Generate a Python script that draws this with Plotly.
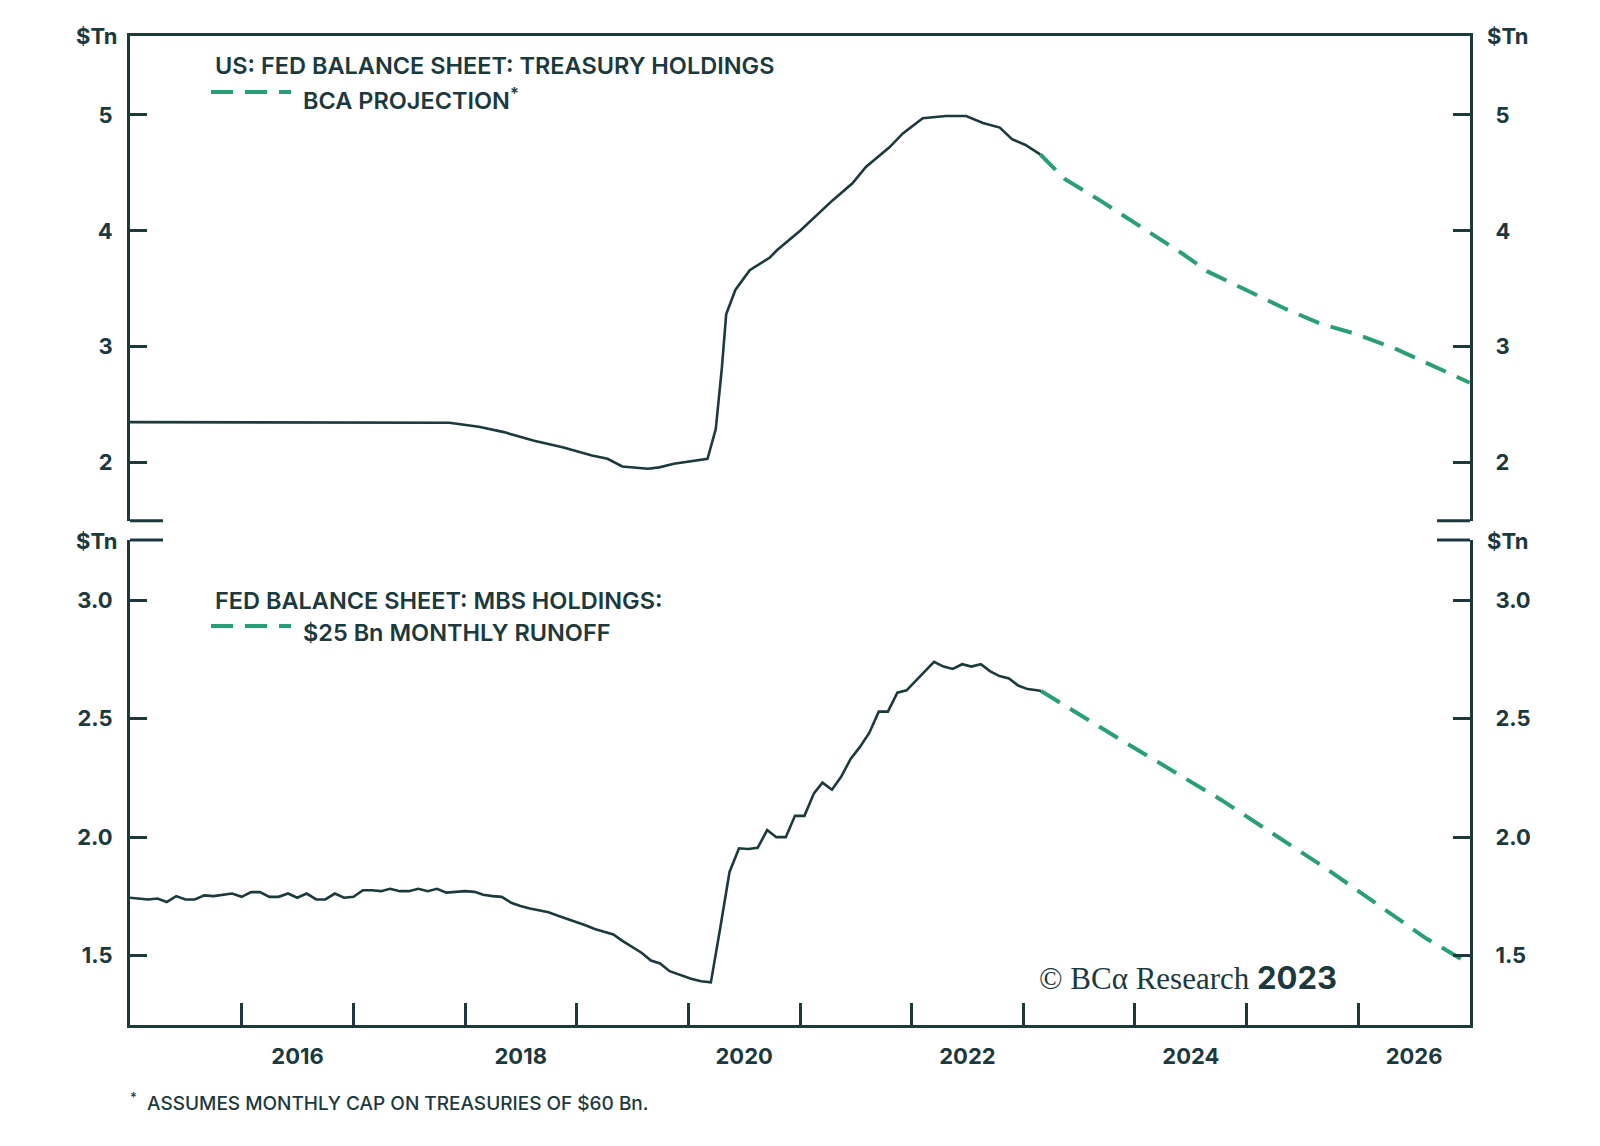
import plotly.graph_objects as go

# ---------------- DATA ----------------
tsy_dates = ["2015-01-01", "2016-01-01", "2017-01-01", "2017-06-01", "2017-11-10",
             "2018-02-15", "2018-05-08", "2018-08-15", "2018-11-16", "2019-02-20",
             "2019-04-12", "2019-05-30", "2019-08-22", "2019-09-28", "2019-11-15",
             "2020-03-04", "2020-03-31", "2020-04-20", "2020-05-04", "2020-06-03",
             "2020-07-20", "2020-09-24", "2020-10-16", "2021-01-01", "2021-04-16",
             "2021-06-21", "2021-08-04", "2021-10-20", "2021-12-03", "2022-02-06",
             "2022-04-23", "2022-06-28", "2022-08-22", "2022-10-16", "2022-11-25",
             "2023-01-08", "2023-02-25"]
tsy_values = [2.35, 2.35, 2.35, 2.35, 2.345,
              2.31, 2.264, 2.19, 2.134, 2.063,
              2.034, 1.968, 1.948, 1.96, 1.991,
              2.034, 2.29, 2.82, 3.28, 3.49,
              3.66, 3.77, 3.83, 4.00, 4.26,
              4.41, 4.55, 4.72, 4.84, 4.97,
              4.99, 4.99, 4.93, 4.89, 4.79,
              4.74, 4.66]

tsy_proj_dates = ["2023-02-25", "2023-05-15", "2023-09-10", "2024-01-22", "2024-06-06",
                  "2024-08-25", "2024-12-20", "2025-05-05", "2025-08-29", "2025-12-24",
                  "2026-05-05", "2026-09-12", "2026-12-31"]
tsy_proj_values = [4.66, 4.45, 4.26, 4.03, 3.80,
                   3.65, 3.50, 3.33, 3.20, 3.11,
                   2.98, 2.82, 2.69]

mbs_dates = ["2015-01-01", "2015-02-01", "2015-03-01", "2015-04-01", "2015-05-01", "2015-06-01",
             "2015-07-01", "2015-08-01", "2015-09-01", "2015-10-01", "2015-11-01", "2015-12-01",
             "2016-01-01", "2016-02-01", "2016-03-01", "2016-04-01", "2016-05-01", "2016-06-01",
             "2016-07-01", "2016-08-01", "2016-09-01", "2016-10-01", "2016-11-01", "2016-12-01",
             "2017-01-01", "2017-02-01", "2017-03-01", "2017-04-01", "2017-05-01", "2017-06-01",
             "2017-07-01", "2017-08-01", "2017-09-01", "2017-10-01", "2017-11-01", "2017-12-01",
             "2018-01-01", "2018-02-01", "2018-03-01", "2018-04-01", "2018-05-01", "2018-06-01",
             "2018-07-01", "2018-08-01", "2018-09-01", "2018-10-01", "2018-11-01", "2018-12-01",
             "2019-01-01", "2019-02-01", "2019-03-01", "2019-04-01", "2019-05-01", "2019-06-01",
             "2019-07-01", "2019-08-01", "2019-09-01", "2019-10-01", "2019-11-01", "2019-12-01",
             "2020-01-10", "2020-02-12", "2020-03-15", "2020-04-15", "2020-05-15", "2020-06-15",
             "2020-07-15", "2020-08-15", "2020-09-15", "2020-10-15", "2020-11-15", "2020-12-15",
             "2021-01-15", "2021-02-15", "2021-03-15", "2021-04-15", "2021-05-15", "2021-06-15",
             "2021-07-15", "2021-08-15", "2021-09-15", "2021-10-15", "2021-11-15", "2021-12-15",
             "2022-01-15", "2022-02-15", "2022-03-15", "2022-04-15", "2022-05-15", "2022-06-15",
             "2022-07-15", "2022-08-15", "2022-09-15", "2022-10-15", "2022-11-15", "2022-12-15",
             "2023-01-15", "2023-02-15", "2023-02-28"]
mbs_values = [1.744, 1.740, 1.737, 1.741, 1.726, 1.751,
              1.737, 1.737, 1.754, 1.751, 1.755, 1.762,
              1.748, 1.768, 1.768, 1.748, 1.748, 1.762,
              1.744, 1.762, 1.737, 1.737, 1.762, 1.744,
              1.748, 1.776, 1.776, 1.772, 1.782, 1.772,
              1.772, 1.782, 1.772, 1.782, 1.766, 1.768,
              1.772, 1.769, 1.757, 1.751, 1.748, 1.723,
              1.709, 1.699, 1.692, 1.683, 1.668, 1.655,
              1.639, 1.627, 1.612, 1.599, 1.589, 1.561,
              1.537, 1.512, 1.479, 1.467, 1.434, 1.420,
              1.402, 1.392, 1.387, 1.62, 1.853, 1.953,
              1.950, 1.955, 2.03, 2.00, 2.00, 2.09,
              2.09, 2.185, 2.23, 2.20, 2.255, 2.33,
              2.38, 2.44, 2.53, 2.53, 2.61, 2.62,
              2.66, 2.70, 2.74, 2.72, 2.71, 2.73,
              2.72, 2.73, 2.70, 2.68, 2.67, 2.64,
              2.625, 2.62, 2.617]

mbs_proj_dates = ["2023-02-28", "2023-11-17", "2024-10-12", "2025-09-09", "2026-08-10", "2026-12-31"]
mbs_proj_values = [2.617, 2.41, 2.155, 1.875, 1.573, 1.465]

year_label_vals = ["2016-07-02", "2018-07-02", "2020-07-02", "2022-07-02", "2024-07-02", "2026-07-02"]
year_label_text = ["2016", "2018", "2020", "2022", "2024", "2026"]
year_tick_vals = ["%d-01-01" % y for y in range(2016, 2027)]

top_ticks = [2, 3, 4, 5]
bot_ticks = [1.5, 2.0, 2.5, 3.0]

# ---------------- STYLE ----------------
DARK = "#1c393e"
GREEN = "#2a9f76"
FONT = "Inter"
XR = ["2015-01-01", "2027-01-01"]
TOP_R = [1.5, 5.68]
BOT_R = [1.207, 3.254]

fig = go.Figure()
fig.add_trace(go.Scatter(x=tsy_dates, y=tsy_values, mode="lines", xaxis="x", yaxis="y",
                         line=dict(color=DARK, width=2.6), showlegend=False))
fig.add_trace(go.Scatter(x=tsy_proj_dates, y=tsy_proj_values, mode="lines", xaxis="x", yaxis="y3",
                         line=dict(color=GREEN, width=4, dash="22px,12px"), showlegend=False))
fig.add_trace(go.Scatter(x=mbs_dates, y=mbs_values, mode="lines", xaxis="x2", yaxis="y2",
                         line=dict(color=DARK, width=2.6), showlegend=False))
fig.add_trace(go.Scatter(x=mbs_proj_dates, y=mbs_proj_values, mode="lines", xaxis="x2", yaxis="y4",
                         line=dict(color=GREEN, width=4, dash="22px,12px"), showlegend=False))

tickfont = dict(family=FONT, size=22, color=DARK, weight=700)
yax_common = dict(showline=True, linecolor=DARK, linewidth=3, ticks="inside", ticklen=17,
                  tickwidth=3, tickcolor=DARK, showgrid=False, zeroline=False,
                  tickfont=tickfont, fixedrange=True)

TOP_DOM = [0.5099, 1.0]
BOT_DOM = [0.0, 0.4903]

fig.update_layout(
    width=1592, height=1138,
    margin=dict(l=122, r=130, t=28, b=121),
    paper_bgcolor="white", plot_bgcolor="white",
    xaxis=dict(range=XR, type="date", anchor="y", side="top", showline=True, linecolor=DARK,
               linewidth=3, ticks="", showticklabels=False, showgrid=False, zeroline=False),
    xaxis2=dict(range=XR, type="date", anchor="y2", side="bottom", showline=True, linecolor=DARK,
                linewidth=3, tickmode="array", tickvals=year_label_vals, ticktext=year_label_text,
                ticks="", showgrid=False, zeroline=False, tickfont=tickfont, ticklabelstandoff=10,
                minor=dict(tickmode="array", tickvals=year_tick_vals, ticks="inside", ticklen=22,
                           tickwidth=3, tickcolor=DARK, showgrid=False)),
    yaxis=dict(domain=TOP_DOM, range=TOP_R, anchor="x", side="left", tickmode="array",
               tickvals=top_ticks, ticklabelstandoff=10, **yax_common),
    yaxis3=dict(range=TOP_R, overlaying="y", anchor="x", side="right", tickmode="array",
                tickvals=top_ticks, ticklabelstandoff=18, **yax_common),
    yaxis2=dict(domain=BOT_DOM, range=BOT_R, anchor="x2", side="left", tickmode="array",
                tickvals=bot_ticks, tickformat=".1f", ticklabelstandoff=10, **yax_common),
    yaxis4=dict(range=BOT_R, overlaying="y2", anchor="x2", side="right", tickmode="array",
                tickvals=bot_ticks, tickformat=".1f", ticklabelstandoff=18, **yax_common),
)

def px_x(x):
    return (x - 130) / 1340.0

def px_y(y):
    return (1025 - y) / 989.0

ann = []
unit_font = dict(family=FONT, size=22, color=DARK, weight=700)
for (x, y) in [(97, 36), (1508, 36), (97, 541), (1508, 541)]:
    ann.append(dict(x=px_x(x), y=px_y(y), xref="paper", yref="paper", text="$Tn",
                    showarrow=False, xanchor="center", yanchor="middle", font=unit_font))

title_font = dict(family=FONT, size=23.5, color=DARK, weight=600)
ann.append(dict(x=px_x(213), y=px_y(65), xref="paper", yref="paper",
                text="US: FED BALANCE SHEET: TREASURY HOLDINGS", showarrow=False,
                xanchor="left", yanchor="middle", font=title_font))
ann.append(dict(x=px_x(301), y=px_y(99), xref="paper", yref="paper",
                text="BCA PROJECTION<sup>*</sup>", showarrow=False,
                xanchor="left", yanchor="middle", font=title_font))
ann.append(dict(x=px_x(213), y=px_y(600), xref="paper", yref="paper",
                text="FED BALANCE SHEET: MBS HOLDINGS:", showarrow=False,
                xanchor="left", yanchor="middle", font=title_font))
ann.append(dict(x=px_x(301), y=px_y(632), xref="paper", yref="paper",
                text="$25 Bn MONTHLY RUNOFF", showarrow=False,
                xanchor="left", yanchor="middle", font=title_font))
ann.append(dict(x=px_x(1188), y=px_y(977), xref="paper", yref="paper",
                text="© BCα Research <span style='font-family:Inter;font-weight:700'>2023</span>",
                showarrow=False, xanchor="center", yanchor="middle",
                font=dict(family="Liberation Serif", size=31, color=DARK)))
ann.append(dict(x=px_x(128), y=px_y(1102), xref="paper", yref="paper",
                text="<sup>*</sup>  ASSUMES MONTHLY CAP ON TREASURIES OF $60 Bn.", showarrow=False,
                xanchor="left", yanchor="middle",
                font=dict(family=FONT, size=19, color=DARK, weight=500)))
fig.update_layout(annotations=ann)

shapes = []
# legend dash samples
for y in [92, 626]:
    shapes.append(dict(type="line", xref="paper", yref="paper", x0=px_x(211), x1=px_x(291),
                       y0=px_y(y), y1=px_y(y), line=dict(color=GREEN, width=4, dash="22px,12px")))
# broken-axis stubs
for yd in [TOP_DOM[0], BOT_DOM[1]]:
    shapes.append(dict(type="line", xref="paper", yref="paper", x0=0, x1=px_x(163),
                       y0=yd, y1=yd, line=dict(color=DARK, width=3)))
    shapes.append(dict(type="line", xref="paper", yref="paper", x0=px_x(1437), x1=1,
                       y0=yd, y1=yd, line=dict(color=DARK, width=3)))
fig.update_layout(shapes=shapes)

fig.write_html("out.html")
